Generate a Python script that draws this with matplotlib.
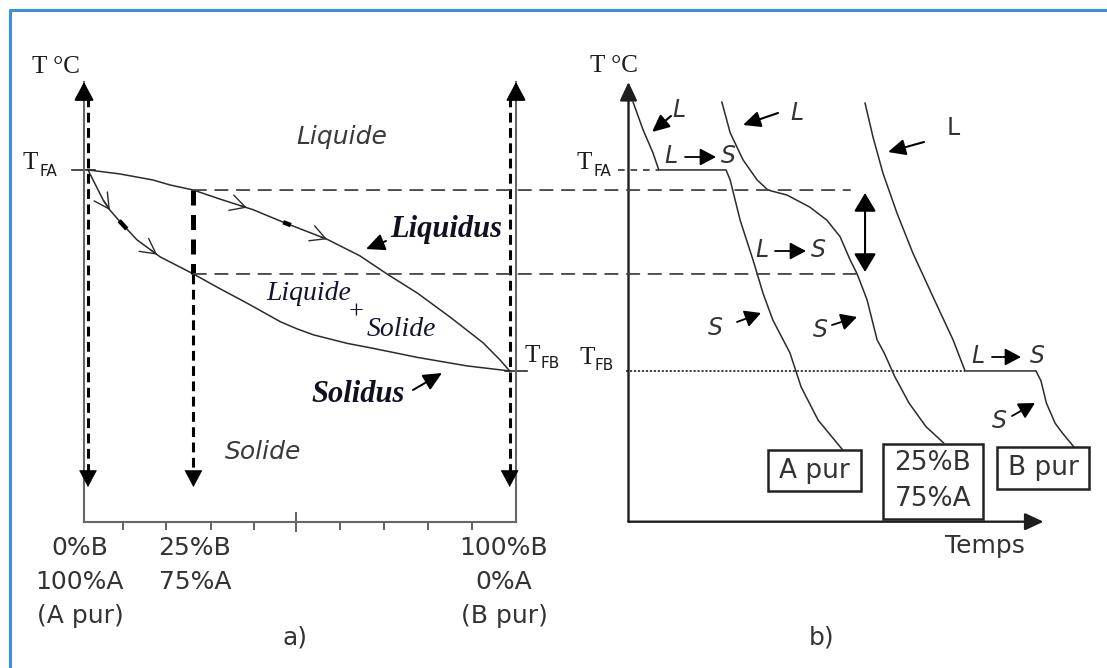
import numpy as np
import matplotlib
matplotlib.use("Agg")
import matplotlib.pyplot as plt
import matplotlib.transforms as mtransforms
from matplotlib.patches import ConnectionPatch, Rectangle
from matplotlib.lines import Line2D

W, H = 1107, 668
SANS = "DejaVu Sans"
SERIF = "Liberation Serif"
INK = "#2b2b2b"

# ---- a) diagramme de phases : composition (%B) / température (°C)
T_FA = 1000
T_FB = 600
x_alloy = 25
T_liq_alloy = 960
T_sol_alloy = 793

liq_x = [0, 7.6, 15.4, 19.5, 25, 31.3, 39.1, 46.3, 56.7, 64.5, 70.9, 78.1, 85.9, 93.7, 97.7, 100]
liq_T = [1000, 992, 980, 970, 960, 942, 921, 896, 862, 829, 793, 755, 707, 656, 622, 600]
sol_x = [0, 3.6, 5.2, 7.6, 11.6, 17.1, 25, 31, 37.7, 45.6, 49.5, 53.4, 61.4, 67.6, 78.1, 89.9, 100]
sol_T = [1000, 940, 920, 897, 861, 827, 793, 765, 735, 698, 684, 672, 655, 645, 627, 610, 600]

comp_ticks = [8.3, 18.5, 29.2, 39.4, 59.8, 70.2, 80.6, 91.1]
comp_mid_tick = 49.3
liq_chevrons = [37.7, 56.7]
sol_chevrons = [5.2, 16.4]
liq_marks = [47.2]
sol_marks = [8.3]

# ---- b) courbes de refroidissement : temps / température
t_Apur = [1.1, 3.5, 5.9, 7.3, 23.5, 24.5, 26.9, 30.0, 32.4, 34.8, 38.9, 41.6, 45.7, 51.6]
T_Apur = [1135, 1080, 1034, 1000, 1000, 980, 900, 821, 755, 701, 636, 568, 502, 443]
t_alloy = [22.5, 24.5, 27.6, 31.0, 33.6, 38.2, 43.7, 47.8, 51.0, 53.4, 55.1, 57.5, 59.9,
           61.6, 64.2, 67.6, 71.7, 75.9]
T_alloy = [1135, 1074, 1020, 980, 960, 950, 926, 900, 867, 821, 793, 741, 662,
           636, 588, 536, 489, 457]
t_Bpur = [57.0, 58.9, 61.3, 64.7, 68.5, 73.4, 78.2, 81.1, 98.2, 99.4, 100.7, 102.8, 104.5, 107.5]
T_Bpur = [1133, 1066, 994, 914, 835, 747, 662, 600, 600, 580, 536, 496, 477, 447]

t_liq_end = 53.4
t_sol_end = 57.0

fig = plt.figure(figsize=(W / 100, H / 100), dpi=100)
# pixel coordinates, origin top-left
px = mtransforms.Affine2D().scale(1 / W, -1 / H).translate(0, 1) + fig.transFigure

# frame
fig.add_artist(Line2D([10, 10, W], [H, 10, 10], transform=px, color="#3d8fdc", lw=2.2))

T_lo, T_hi = 300, 1175
y_top, y_bot = 82, 521.7
ax_a = fig.add_axes([84 / W, 1 - y_bot / H, 432 / W, (y_bot - y_top) / H])
ax_b = fig.add_axes([628.5 / W, 1 - y_bot / H, 112 * 4.15 / W, (y_bot - y_top) / H])
ax_a.set_xlim(-0.95, 101.5)
ax_b.set_xlim(0, 112)
for ax in (ax_a, ax_b):
    ax.set_ylim(T_lo, T_hi)
    ax.patch.set_alpha(0)
    ax.set_yticks([])


def head_style(kind="-|>", hl=0.75, hw=0.35, ms=15, lw=1.5, color="black"):
    return dict(arrowstyle=f"{kind},head_length={hl},head_width={hw}", mutation_scale=ms,
                color=color, lw=lw, shrinkA=0, shrinkB=0)


# ---------------- a)
ax_a.spines["top"].set_visible(False)
for s in ("left", "right", "bottom"):
    ax_a.spines[s].set_color("#666666")
    ax_a.spines[s].set_linewidth(1.5)
ax_a.set_xticks(comp_ticks)
ax_a.set_xticklabels([])
ax_a.tick_params(axis="x", direction="out", length=6, width=1.3, color="#555555")
ax_a.set_xticks([comp_mid_tick], minor=True)
ax_a.tick_params(axis="x", which="minor", direction="inout", length=14, width=1.3, color="#555555")

for xv in ax_a.get_xlim():
    ax_a.annotate("", xy=(xv, T_hi), xytext=(xv, T_hi - 30), arrowprops=head_style(hw=0.4),
                  annotation_clip=False)

ax_a.plot(liq_x, liq_T, color=INK, lw=1.1, clip_on=False)
ax_a.plot(sol_x, sol_T, color=INK, lw=1.1, clip_on=False)

chev = head_style("->", hl=0.6, hw=0.32, ms=18, lw=1.0, color=INK)
for xs, Ts, marks in ((liq_x, liq_T, liq_chevrons), (sol_x, sol_T, sol_chevrons)):
    for x0 in marks:
        ax_a.annotate("", xy=(x0, np.interp(x0, xs, Ts)),
                      xytext=(x0 - 1.5, np.interp(x0 - 1.5, xs, Ts)), arrowprops=chev)
for xs, Ts, marks in ((liq_x, liq_T, liq_marks), (sol_x, sol_T, sol_marks)):
    for x0 in marks:
        seg = np.array([x0 - 0.9, x0 + 0.9])
        ax_a.plot(seg, np.interp(seg, xs, Ts), color="black", lw=3.2, solid_capstyle="butt")

# short ticks for the melting points
ax_a.plot([-3.8, 1.7], [T_FA, T_FA], color=INK, lw=1.2, clip_on=False)
ax_a.plot([98.9, 104.2], [T_FB, T_FB], color=INK, lw=1.2, clip_on=False)

# vertical cooling paths
T_path_top, T_path_end = 1145, 369
down = head_style(hl=0.75, hw=0.4, ms=15, lw=0.5)
for xc in (0, 100):
    ax_a.plot([xc, xc], [T_path_top, T_path_end + 15], color="black", lw=2.2, dashes=(3.2, 1.8))
    ax_a.annotate("", xy=(xc, T_path_end), xytext=(xc, T_path_end + 8), arrowprops=down)
ax_a.plot([x_alloy, x_alloy], [T_liq_alloy, T_sol_alloy], color="black", lw=3.6, dashes=(3.0, 1.9))
ax_a.plot([x_alloy, x_alloy], [T_sol_alloy, T_path_end + 15], color="black", lw=2.2, dashes=(3.2, 1.8))
ax_a.annotate("", xy=(x_alloy, T_path_end), xytext=(x_alloy, T_path_end + 8), arrowprops=down)

# ---------------- b)
for s in ax_b.spines.values():
    s.set_visible(False)
ax_b.set_xticks([])
axis_b = head_style(hl=0.75, hw=0.35, ms=15, lw=1.7, color="#1e1e1e")
ax_b.annotate("", xy=(0, T_hi), xytext=(0, T_lo), arrowprops=axis_b, annotation_clip=False)
ax_b.annotate("", xy=(100, T_lo), xytext=(0, T_lo), arrowprops=axis_b, annotation_clip=False)

for t, T in ((t_Apur, T_Apur), (t_alloy, T_alloy), (t_Bpur, T_Bpur)):
    ax_b.plot(t, T, color=INK, lw=1.1, clip_on=False)

ax_b.plot([-2.5, t_Apur[3]], [T_FA, T_FA], color="#333333", lw=1.2, dashes=(4, 3.5), clip_on=False)
ax_b.plot([-0.5, t_Bpur[7]], [T_FB, T_FB], color="#333333", lw=1.3, dashes=(1.2, 1.0), clip_on=False)

ax_b.annotate("", xy=(t_sol_end, T_liq_alloy - 6), xytext=(t_sol_end, T_sol_alloy + 4),
              arrowprops=head_style("<|-|>", hl=0.75, hw=0.45, ms=15, lw=1.5))

# liquidus / solidus levels of the 25 %B alloy carried over to the cooling curves
for T, t_end in ((T_liq_alloy, t_liq_end), (T_sol_alloy, t_sol_end)):
    fig.add_artist(ConnectionPatch(xyA=(x_alloy, T), coordsA=ax_a.transData,
                                   xyB=(t_end, T), coordsB=ax_b.transData,
                                   color="#444444", lw=1.3, linestyle=(0, (7, 5))))


# ---------------- texts
def txt(x, y, s, size=18, family=SANS, style="normal", weight="normal", color=INK, **kw):
    fig.text(x, y, s, transform=px, fontsize=size, family=family, style=style,
             weight=weight, color=color, ha="center", va="center", **kw)


def arrow(x0, y0, x1, y1, lw=1.4, hl=0.75, hw=0.35, ms=14):
    ax_a.annotate("", xy=(x1, y1), xycoords=px, xytext=(x0, y0), textcoords=px,
                  annotation_clip=False, arrowprops=head_style(hl=hl, hw=hw, ms=ms, lw=lw))


def sub_label(xt, yt, xs, ys, sub):
    txt(xt, yt, "T", size=18, family=SERIF, color="#1a1a1a")
    txt(xs, ys, sub, size=11, color="#1a1a1a")


txt(56, 67, "T °C", size=18, family=SERIF, color="#1a1a1a")
txt(614, 66, "T °C", size=18, family=SERIF, color="#1a1a1a")
sub_label(30, 163, 48, 172, "FA")
sub_label(532, 356, 550, 364, "FB")
sub_label(584, 163, 602, 171, "FA")
sub_label(587, 358, 604, 366, "FB")

txt(342, 137, "Liquide", style="italic", color="#3a3a3a")
txt(263, 452, "Solide", style="italic", color="#3a3a3a")
txt(446, 230, "Liquidus", size=22, family=SERIF, style="italic", weight="bold", color="#111122")
arrow(386, 241, 366, 249, ms=15)
txt(358, 395, "Solidus", size=22, family=SERIF, style="italic", weight="bold", color="#111122")
arrow(413, 390, 442, 373, ms=15)
txt(309, 293, "Liquide", size=20, family=SERIF, style="italic", color="#141430")
txt(356, 313, "+", size=19, family=SERIF, color="#141430")
txt(401, 330, "Solide", size=20, family=SERIF, style="italic", color="#141430")

for xc, lines in ((80, ["0%B", "100%A", "(A pur)"]),
                  (195, ["25%B", "75%A"]),
                  (504, ["100%B", "0%A", "(B pur)"])):
    for k, s in enumerate(lines):
        txt(xc, 548 + 34 * k, s, color="#333333")
txt(295, 638, "a)", color="#333333")
txt(822, 638, "b)", color="#333333")
txt(985, 546, "Temps", color="#333333")

# L / S annotations on the cooling curves
for (lx, ly, ax0, ay0, ax1, ay1, upright) in ((679, 110, 671, 116, 652, 132, False),
                                              (797, 113, 778, 113, 743, 125, False),
                                              (953, 128, 924, 142, 888, 152, True)):
    txt(lx, ly, "L", size=17, style="normal" if upright else "italic", color="#333333")
    arrow(ax0, ay0, ax1, ay1, lw=1.5)
for (sx, sy, ax0, ay0, ax1, ay1) in ((715, 328, 737, 322, 761, 313),
                                     (820, 330, 832, 325, 857, 317),
                                     (999, 421, 1012, 416, 1035, 403)):
    txt(sx, sy, "S", size=17, style="italic", color="#333333")
    arrow(ax0, ay0, ax1, ay1, lw=1.3, hw=0.4, ms=13)
for (lx, x0, x1, sx, y) in ((671, 685, 716, 728, 156),
                            (762, 775, 806, 818, 250),
                            (978, 992, 1021, 1037, 356)):
    txt(lx, y, "L", size=17, style="italic", color="#333333")
    arrow(x0, y + 1, x1, y + 1, lw=1.3, hw=0.4, ms=13)
    txt(sx, y, "S", size=17, style="italic", color="#333333")

# sample boxes
for (x0, y0, x1, y1, lines) in ((768, 450, 861, 491, ["A pur"]),
                                (883, 444, 983, 519, ["25%B", "75%A"]),
                                (997, 447, 1089, 489, ["B pur"])):
    fig.add_artist(Rectangle((x0, y0), x1 - x0, y1 - y0, transform=px, fill=True,
                             fc="white", ec="#222222", lw=1.8))
    yc = (y0 + y1) / 2
    n = len(lines)
    for k, s in enumerate(lines):
        txt((x0 + x1) / 2, yc + (k - (n - 1) / 2) * 36, s, size=19, color="#333333")

fig.savefig("out.png", dpi=100)
